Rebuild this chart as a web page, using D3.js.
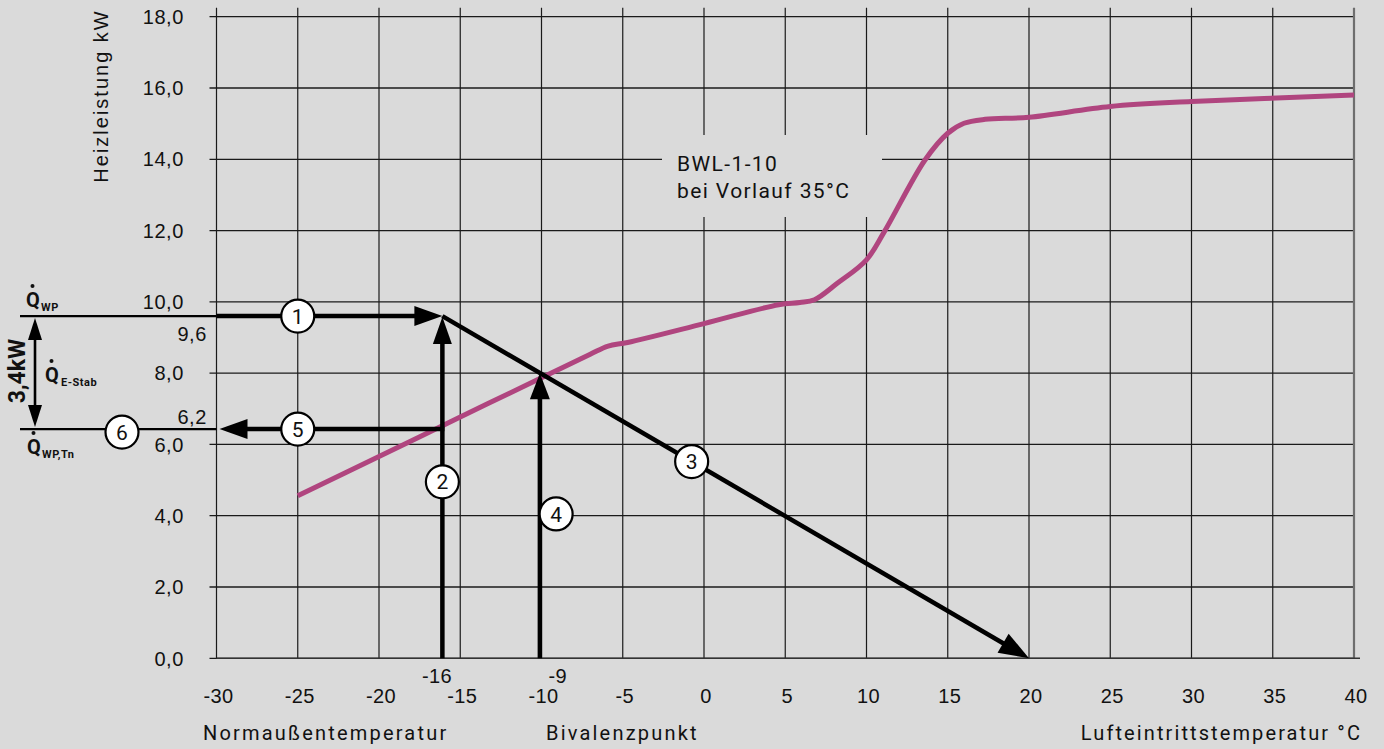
<!DOCTYPE html>
<html><head><meta charset="utf-8">
<script src="https://cdn.jsdelivr.net/npm/d3@7"></script>
<style>body{margin:0;background:#dadada;} svg{display:block;}</style>
</head><body>
<script>
// ---------- data ----------
const xTicks = [-30,-25,-20,-15,-10,-5,0,5,10,15,20,25,30,35,40];
const yTicks = [0,2,4,6,8,10,12,14,16,18];
const yTickLabels = ["0,0","2,0","4,0","6,0","8,0","10,0","12,0","14,0","16,0","18,0"];
// heating capacity curve (BWL-1-10, flow 35°C)
const curveTemp = [-25,-20,-15,-10,-7,-5.9,-4.7,0,4.6,5.9,6.8,8.2,10,11.1,13.6,15,16,17.3,20,25,30,40];
const curveKW   = [4.56,5.66,6.77,7.87,8.53,8.76,8.86,9.39,9.92,9.98,10.06,10.52,11.18,11.97,13.98,14.73,15.01,15.12,15.18,15.48,15.62,15.8];
// construction values (as drawn)
const normTemp = -16.1, normLabel = "-16", normLabelValue = -16;
const bivTemp = -10.1,  bivLabel = "-9",  bivLabelValue = -9;
const qWP = 9.6, qWPTn = 6.43, qWPLabel = "9,6", qWPTnLabel = "6,2";
const heatEndTemp = 20;
const bivKW = 8.0;
const circleNums = [1,2,3,4,5];
const circleTemp = [-25,-16.1,-0.76,-9.1,-25];
const circleKW   = [9.6,4.95,5.52,4.05,6.43];

// ---------- layout ----------
const W = 1384, H = 749;
const svg = d3.select("body").append("svg").attr("width",W).attr("height",H);
svg.append("rect").attr("width",W).attr("height",H).attr("fill","#dadada");

const x = d3.scaleLinear().domain([-30,40]).range([216.5,1354]);
const y = d3.scaleLinear().domain([0,18]).range([658.3,16.7]);

const tickFont = "'Liberation Sans', Arial, sans-serif";
const dinFont = "Roboto, 'DejaVu Sans', sans-serif";

// grid
const g = svg.append("g");
g.selectAll(".hg").data(yTicks).join("line")
  .attr("x1", x(-30)-7).attr("x2", x(40))
  .attr("y1", d=>y(d)).attr("y2", d=>y(d))
  .attr("stroke", "#1a1a1a").attr("stroke-width", 1.3);
g.selectAll(".vg").data(xTicks).join("line")
  .attr("x1", d=>x(d)).attr("x2", d=>x(d))
  .attr("y1", y(18)-9).attr("y2", y(0))
  .attr("stroke", d=> d===40 ? "#6e6e6e" : "#1a1a1a")
  .attr("stroke-width", d=> d===40 ? 2.2 : 1.2);
g.append("line").attr("x1", x(-30)).attr("x2", x(40)+6)
  .attr("y1", y(0)).attr("y2", y(0)).attr("stroke","#333").attr("stroke-width",1.6);

// y tick labels
svg.selectAll(".yl").data(yTicks).join("text")
  .attr("x", 184).attr("y", d=>y(d)).attr("dy","0.36em")
  .attr("text-anchor","end").attr("font-family",tickFont).attr("font-size",20)
  .attr("letter-spacing",0.6).attr("fill","#111")
  .text((d,i)=>yTickLabels[i]);
// x tick labels
svg.selectAll(".xl").data(xTicks).join("text")
  .attr("x", d=>x(d)+2).attr("y", 703)
  .attr("text-anchor","middle").attr("font-family",tickFont).attr("font-size",20)
  .attr("letter-spacing",0.4).attr("fill","#111")
  .text(d=>d);
svg.append("text").attr("x", x(normLabelValue)-7).attr("y",683)
  .attr("text-anchor","middle").attr("font-family",tickFont).attr("font-size",20)
  .attr("letter-spacing",0.4).attr("fill","#111").text(normLabel);
svg.append("text").attr("x", x(bivLabelValue)).attr("y",683)
  .attr("text-anchor","middle").attr("font-family",tickFont).attr("font-size",20)
  .attr("letter-spacing",0.4).attr("fill","#111").text(bivLabel);

// axis titles
svg.append("text").attr("transform","translate(108,96) rotate(-90)")
  .attr("text-anchor","middle").attr("font-family",tickFont).attr("font-size",20)
  .attr("letter-spacing",2).attr("fill","#111").text("Heizleistung kW");
svg.append("text").attr("x",203).attr("y",740).attr("font-family",dinFont)
  .attr("font-size",20).attr("letter-spacing",2.2).attr("fill","#111").text("Normaußentemperatur");
svg.append("text").attr("x",546).attr("y",740).attr("font-family",dinFont)
  .attr("font-size",20).attr("letter-spacing",2.2).attr("fill","#111").text("Bivalenzpunkt");
svg.append("text").attr("x",1362).attr("y",740).attr("text-anchor","end").attr("font-family",dinFont)
  .attr("font-size",20).attr("letter-spacing",2.1).attr("fill","#111").text("Lufteintrittstemperatur °C");

// label box
svg.append("rect").attr("x",662).attr("y",135).attr("width",220).attr("height",82).attr("fill","#dadada");
svg.append("text").attr("x",677).attr("y",171).attr("font-family",dinFont).attr("font-size",21)
  .attr("letter-spacing",1.4).attr("fill","#111").text("BWL-1-10");
svg.append("text").attr("x",677).attr("y",198).attr("font-family",dinFont).attr("font-size",21)
  .attr("letter-spacing",1.4).attr("fill","#111").text("bei Vorlauf 35°C");

// capacity curve
const curveData = curveTemp.map((t,i)=>[t,curveKW[i]]);
svg.append("path").datum(curveData)
  .attr("d", d3.line().x(d=>x(d[0])).y(d=>y(d[1])).curve(d3.curveCatmullRom.alpha(0.5)))
  .attr("fill","none").attr("stroke","#b0457f").attr("stroke-width",5).attr("stroke-linecap","butt");

// arrows
function head(tx,ty,ang,len,wid){
  const c=Math.cos(ang), s=Math.sin(ang);
  const bx=tx-len*c, by=ty-len*s;
  return `M${tx},${ty}L${bx - wid/2*s},${by + wid/2*c}L${bx + wid/2*s},${by - wid/2*c}Z`;
}
const A = svg.append("g");
function arrow(x1,y1,x2,y2,len,wid,sw){
  const ang=Math.atan2(y2-y1,x2-x1);
  const ex=x2-(len*0.8)*Math.cos(ang), ey=y2-(len*0.8)*Math.sin(ang);
  A.append("line").attr("x1",x1).attr("y1",y1).attr("x2",ex).attr("y2",ey)
    .attr("stroke","#000").attr("stroke-width",sw);
  A.append("path").attr("d",head(x2,y2,ang,len,wid)).attr("fill","#000");
}
A.append("line").attr("x1",20).attr("x2",x(-30)).attr("y1",y(qWP)).attr("y2",y(qWP))
  .attr("stroke","#000").attr("stroke-width",2.4);
A.append("line").attr("x1",20).attr("x2",x(-30)).attr("y1",y(qWPTn)).attr("y2",y(qWPTn))
  .attr("stroke","#000").attr("stroke-width",2.4);
arrow(x(-30), y(qWP), x(normTemp), y(qWP), 28, 20, 4.5);
arrow(x(normTemp), y(0), x(normTemp), y(qWP)+1, 27, 19, 4.5);
arrow(x(normTemp), y(qWP), x(heatEndTemp), y(0), 30, 22, 4.5);
arrow(x(bivTemp), y(0), x(bivTemp), y(bivKW), 26, 20, 4.5);
arrow(x(normTemp)+2, y(qWPTn), x(-30)+3, y(qWPTn), 28, 20, 4.5);
// double arrow (3,4kW)
const dax = 35;
A.append("line").attr("x1",dax).attr("x2",dax).attr("y1",y(qWP)+18).attr("y2",y(qWPTn)-18)
  .attr("stroke","#000").attr("stroke-width",2.6);
A.append("path").attr("d",head(dax,y(qWP)+2,-Math.PI/2,22,14)).attr("fill","#000");
A.append("path").attr("d",head(dax,y(qWPTn)-2,Math.PI/2,22,14)).attr("fill","#000");

// value labels 9,6 / 6,2
svg.append("text").attr("x",207).attr("y",341).attr("text-anchor","end").attr("font-family",tickFont)
  .attr("font-size",20).attr("letter-spacing",0.6).attr("fill","#111").text(qWPLabel);
svg.append("text").attr("x",207).attr("y",424).attr("text-anchor","end").attr("font-family",tickFont)
  .attr("font-size",20).attr("letter-spacing",0.6).attr("fill","#111").text(qWPTnLabel);

// circles
const circles = circleNums.map((n,i)=>({n, cx:x(circleTemp[i]), cy:y(circleKW[i])}));
circles.push({n:6, cx:122, cy:y(qWPTn)+3});
const cg = svg.selectAll(".cir").data(circles).join("g")
  .attr("transform", d=>`translate(${d.cx},${d.cy})`);
cg.append("circle").attr("r",16.5).attr("fill","#fff").attr("stroke","#000").attr("stroke-width",2.2);
cg.append("text").attr("text-anchor","middle").attr("dy","0.36em")
  .attr("font-family",dinFont).attr("font-size",21).attr("fill","#111").text(d=>d.n);

// rotated 3,4kW
svg.append("text").attr("transform","translate(25,371) rotate(-90)").attr("text-anchor","middle")
  .attr("font-family",dinFont).attr("font-weight",700).attr("font-size",23).attr("fill","#111").text("3,4kW");

// Q-dot labels
function qLabel(qx,qy,sub,sx,sy){
  svg.append("text").attr("x",qx).attr("y",qy).attr("font-family",dinFont).attr("font-weight",700)
    .attr("font-size",20).attr("fill","#111").text("Q");
  svg.append("circle").attr("cx",qx+6.5).attr("cy",qy-21).attr("r",2).attr("fill","#111");
  svg.append("text").attr("x",sx).attr("y",sy).attr("font-family",dinFont).attr("font-weight",700)
    .attr("font-size",11).attr("letter-spacing",0.5).attr("fill","#111").text(sub);
}
qLabel(26,307,"WP",41,311);
qLabel(45,382,"E-Stab",61,386);
qLabel(27,454,"WP,Tn",42,458);
</script>
</body></html>
